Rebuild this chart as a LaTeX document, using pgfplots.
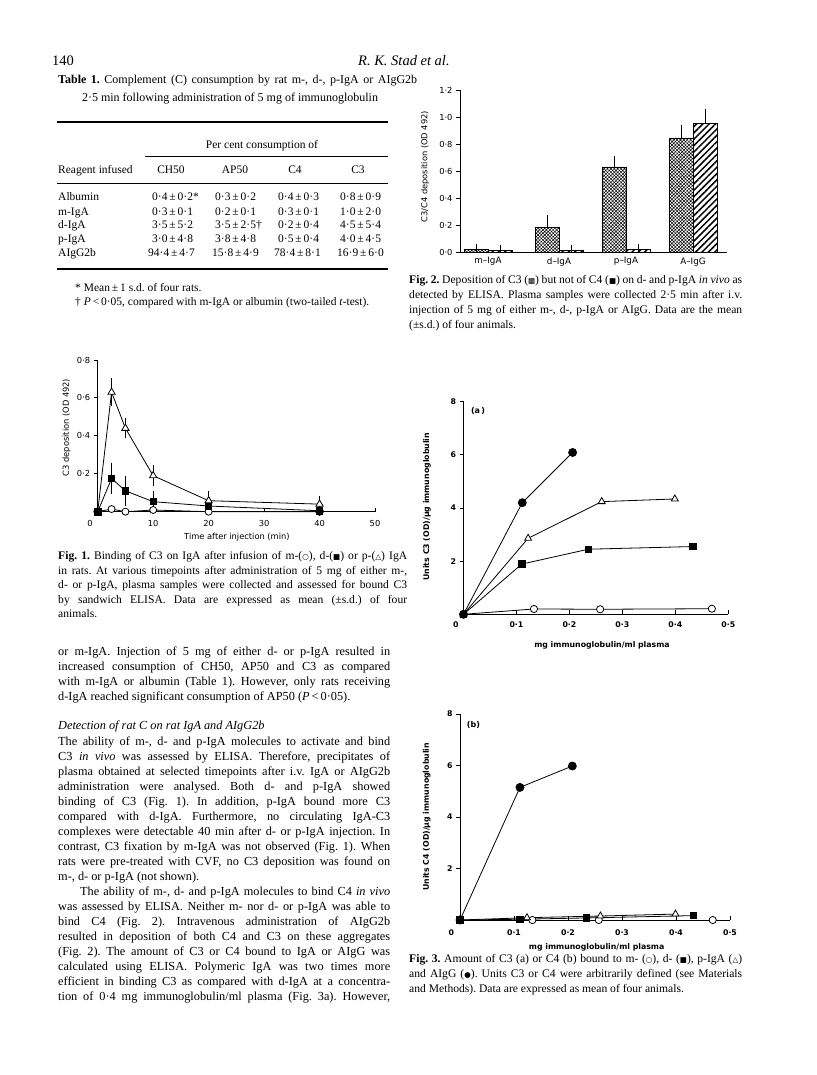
\documentclass[border=0pt]{standalone}
\usepackage{fontspec}
\setmainfont{Liberation Serif}
\newfontfamily\plotfont{DejaVu Sans}
\newfontfamily\symfont{DejaVu Sans}
\usepackage{pgfplots}
\pgfplotsset{compat=1.18}
\usetikzlibrary{patterns,patterns.meta}

\newcommand\JL[4]{\node[anchor=base west,inner sep=0pt] at (#1pt,-#2pt) {\makebox[#3pt][s]{#4}};}
\newcommand\LL[3]{\node[anchor=base west,inner sep=0pt] at (#1pt,-#2pt) {#3};}
\newcommand\CL[3]{\node[anchor=base,inner sep=0pt] at (#1pt,-#2pt) {#3};}
\newcommand\sy[1]{{\symfont\fontsize{7.5}{7.5}\selectfont #1}}

\pgfplotsset{
  oldaxis/.style={
    scale only axis, anchor=south west, clip=false,
    axis x line*=bottom, axis y line*=left,
    axis line style={-, line width=0.9pt},
    every outer x axis line/.append style={-},
    every outer y axis line/.append style={-},
    xtick pos=bottom, ytick pos=left,
    major tick length=4pt,
    tick style={line width=0.9pt, black},
    xtick align=inside, ytick align=outside,
    minor tick num=0,
    tick label style={font=\plotfont\fontsize{8.3}{9}\selectfont},
    label style={font=\plotfont\fontsize{8.3}{9}\selectfont},
    xlabel style={anchor=center}, ylabel style={anchor=center},
  },
  f3/.style={
    tick label style={font=\plotfont\bfseries\fontsize{7.8}{9}\selectfont},
    label style={font=\plotfont\bfseries\fontsize{7.8}{9}\selectfont},
  },
  ln/.style={black, line width=0.8pt},
}

\begin{document}
\frenchspacing
\begin{tikzpicture}
\path[use as bounding box] (0,0) rectangle (816pt,-1075pt);

% ---------------- header ----------------
\LL{52}{66}{\fontsize{14.5}{16}\selectfont 140}
\LL{358}{66}{\fontsize{14.5}{16}\selectfont\itshape R. K. Stad et al.}

% ---------------- table ----------------
\begin{scope}[font=\fontsize{12}{14}\selectfont]
\JL{58}{84}{359}{\textbf{Table 1.} Complement (C) consumption by rat m-, d-, p-IgA or AIgG2b}
\CL{230}{102}{2·5 min following administration of 5 mg of immunoglobulin}
\end{scope}
\draw[line width=1.3pt] (57pt,-122pt) -- (388pt,-122pt);
\draw[line width=0.7pt] (145pt,-156pt) -- (388pt,-156pt);
\draw[line width=0.7pt] (57pt,-183pt) -- (388pt,-183pt);
\draw[line width=1.3pt] (57pt,-269pt) -- (388pt,-269pt);
\begin{scope}[font=\fontsize{11.5}{13}\selectfont]
\CL{262}{149}{Per cent consumption of}
\LL{58}{174}{Reagent infused}
\CL{171}{174}{CH50}
\CL{235}{174}{AP50}
\CL{295}{174}{C4}
\CL{358}{174}{C3}
% rows
\LL{58}{201}{Albumin}
\LL{58}{215}{m-IgA}
\LL{58}{229}{d-IgA}
\LL{58}{242.5}{p-IgA}
\LL{58}{256}{AIgG2b}
\LL{152}{201}{0·4\,±\,0·2*}
\LL{152}{215}{0·3\,±\,0·1}
\LL{152}{229}{3·5\,±\,5·2}
\LL{152}{242.5}{3·0\,±\,4·8}
\LL{148}{256}{94·4\,±\,4·7}
\LL{215}{201}{0·3\,±\,0·2}
\LL{215}{215}{0·2\,±\,0·1}
\LL{215}{229}{3·5\,±\,2·5†}
\LL{215}{242.5}{3·8\,±\,4·8}
\LL{212}{256}{15·8\,±\,4·9}
\LL{278}{201}{0·4\,±\,0·3}
\LL{278}{215}{0·3\,±\,0·1}
\LL{278}{229}{0·2\,±\,0·4}
\LL{278}{242.5}{0·5\,±\,0·4}
\LL{274}{256}{78·4\,±\,8·1}
\LL{340}{201}{0·8\,±\,0·9}
\LL{340}{215}{1·0\,±\,2·0}
\LL{340}{229}{4·5\,±\,5·4}
\LL{340}{242.5}{4·0\,±\,4·5}
\LL{337}{256}{16·9\,±\,6·0}
\LL{75}{291}{* Mean\,±\,1 s.d. of four rats.}
\LL{75}{305}{† \textit{P}\,<\,0·05, compared with m-IgA or albumin (two-tailed \textit{t}-test).}
\end{scope}

% ---------------- captions ----------------
\begin{scope}[font=\fontsize{11.6}{14}\selectfont]
\JL{58}{559.5}{349}{\textbf{Fig. 1.} Binding of C3 on IgA after infusion of m-(\sy{○}), d-(\sy{■}) or p-(\sy{△}) IgA}
\JL{58}{574}{349}{in rats. At various timepoints after administration of 5 mg of either m-,}
\JL{58}{588.5}{349}{d- or p-IgA, plasma samples were collected and assessed for bound C3}
\JL{58}{603}{349}{by sandwich ELISA. Data are expressed as mean (±s.d.) of four}
\LL{58}{617.5}{animals.}

\JL{409}{283.5}{333}{\textbf{Fig. 2.} Deposition of C3 (\sy{▩}) but not of C4 (\sy{■}) on d- and p-IgA \textit{in vivo} as}
\JL{409}{298.5}{333}{detected by ELISA. Plasma samples were collected 2·5 min after i.v.}
\JL{409}{313.5}{333}{injection of 5 mg of either m-, d-, p-IgA or AIgG. Data are the mean}
\LL{409}{328.5}{(±s.d.) of four animals.}

\JL{409}{962.5}{333}{\textbf{Fig. 3.} Amount of C3 (a) or C4 (b) bound to m- (\sy{○}), d- (\sy{■}), p-IgA (\sy{△})}
\JL{409}{977.5}{333}{and AIgG (\sy{●}). Units C3 or C4 were arbitrarily defined (see Materials}
\LL{409}{992.5}{and Methods). Data are expressed as mean of four animals.}
\end{scope}

% ---------------- body text ----------------
\begin{scope}[font=\fontsize{12.3}{15}\selectfont]
\JL{58}{655}{332}{or m-IgA. Injection of 5 mg of either d- or p-IgA resulted in}
\JL{58}{670}{332}{increased consumption of CH50, AP50 and C3 as compared}
\JL{58}{685}{332}{with m-IgA or albumin (Table 1). However, only rats receiving}
\LL{58}{700}{d-IgA reached significant consumption of AP50 (\textit{P}\,<\,0·05).}
\LL{58}{729}{\textit{Detection of rat C on rat IgA and AIgG2b}}
\JL{58}{745}{332}{The ability of m-, d- and p-IgA molecules to activate and bind}
\JL{58}{760}{332}{C3 \textit{in vivo} was assessed by ELISA. Therefore, precipitates of}
\JL{58}{775}{332}{plasma obtained at selected timepoints after i.v. IgA or AIgG2b}
\JL{58}{790}{332}{administration were analysed. Both d- and p-IgA showed}
\JL{58}{805}{332}{binding of C3 (Fig. 1). In addition, p-IgA bound more C3}
\JL{58}{820}{332}{compared with d-IgA. Furthermore, no circulating IgA-C3}
\JL{58}{835}{332}{complexes were detectable 40 min after d- or p-IgA injection. In}
\JL{58}{850}{332}{contrast, C3 fixation by m-IgA was not observed (Fig. 1). When}
\JL{58}{865}{332}{rats were pre-treated with CVF, no C3 deposition was found on}
\LL{58}{880}{m-, d- or p-IgA (not shown).}
\JL{80}{895}{310}{The ability of m-, d- and p-IgA molecules to bind C4 \textit{in vivo}}
\JL{58}{910}{332}{was assessed by ELISA. Neither m- nor d- or p-IgA was able to}
\JL{58}{925}{332}{bind C4 (Fig. 2). Intravenous administration of AIgG2b}
\JL{58}{940}{332}{resulted in deposition of both C4 and C3 on these aggregates}
\JL{58}{955}{332}{(Fig. 2). The amount of C3 or C4 bound to IgA or AIgG was}
\JL{58}{970}{332}{calculated using ELISA. Polymeric IgA was two times more}
\JL{58}{985}{332}{efficient in binding C3 as compared with d-IgA at a concentra-}
\JL{58}{1000}{332}{tion of 0·4 mg immunoglobulin/ml plasma (Fig. 3a). However,}
\end{scope}

% ---------------- Fig. 1 ----------------
\begin{axis}[oldaxis, at={(97.7pt,-511.7pt)}, width=277.3pt, height=151.7pt,
  xmin=0, xmax=50, ymin=0, ymax=0.8,
  xtick={0,10,20,30,40,50},
  xticklabels={\makebox[0pt][r]{0\hspace{5pt}},10,20,30,40,50},
  ytick={0.2,0.4,0.6,0.8}, yticklabels={0·2,0·4,0·6,0·8},
  xticklabel style={yshift=-5pt},
  xlabel={Time after injection (min)}, ylabel={C3 deposition (OD 492)},
  xlabel style={at={(axis description cs:0.502,-0.167)}},
  ylabel style={at={(axis description cs:-0.112,0.555)}},
]
% error bars
\addplot[only marks, mark=none, black, error bars/.cd, y dir=both, y explicit,
  error bar style={line width=0.8pt}, error mark options={mark size=4.5pt, line width=0.8pt}]
  coordinates {(2.5,0.63) +- (0,0.05) (5,0.44) +- (0,0.03) (10,0.19) +- (0,0.03) (20,0.058) +- (0,0.025) (40,0.04) +- (0,0.02)};
\addplot[only marks, mark=none, black, error bars/.cd, y dir=both, y explicit,
  error bar style={line width=0.8pt}, error mark options={mark size=4.5pt, line width=0.8pt}]
  coordinates {(2.5,0.175) +- (0,0.06) (5,0.11) +- (0,0.055) (10,0.053) +- (0,0.03)};
% m-IgA
\addplot[ln, mark=*, mark size=3.5pt, mark options={fill=white, line width=0.8pt}]
  coordinates {(0,0) (2.5,0.014) (5,0.0) (10,0.009) (20,0.0) (40,0.0)};
% d-IgA
\addplot[ln, mark=square*, mark size=3.2pt, mark options={fill=black}]
  coordinates {(0,0) (2.5,0.175) (5,0.11) (10,0.053) (20,0.03) (40,0.005)};
% p-IgA
\addplot[ln, mark=triangle*, mark size=4.2pt, mark options={fill=white, line width=0.8pt}, mark indices={2,3,4,5,6}]
  coordinates {(0,0) (2.5,0.63) (5,0.44) (10,0.19) (20,0.058) (40,0.04)};
\addplot[only marks, mark=*, mark size=4pt, black] coordinates {(0,0) (40,0.002)};
\end{axis}

% ---------------- Fig. 2 ----------------
\begin{axis}[oldaxis, at={(460pt,-252pt)}, width=267pt, height=162pt,
  xmin=0, xmax=267, ymin=0, ymax=1.2,
  ytick={0,0.2,0.4,0.6,0.8,1.0,1.2}, yticklabels={0·0,0·2,0·4,0·6,0·8,1·0,1·2},
  xtick={28,99,166,233}, xticklabels={m–IgA,d–IgA,p–IgA,A–IgG},
  x tick style={draw=none},
  xticklabel style={yshift=-2pt, font=\plotfont\fontsize{8.8}{9}\selectfont},
  ylabel={C3/C4 deposition (OD 492)},
  ylabel style={at={(axis description cs:-0.131,0.527)}},
]
\addplot[ybar, bar width=24, bar shift=0pt, draw=black, line width=0.8pt,
  pattern={Hatch[angle=45,distance=2.4pt,line width=0.5pt]}, pattern color=black,
  error bars/.cd, y dir=plus, y explicit,
  error bar style={line width=0.8pt, solid}, error mark options={mark size=4pt, line width=0.8pt}]
  coordinates {(16,0.02) +- (0,0.01) (87,0.18) +- (0,0.065) (154,0.63) +- (0,0.055) (221,0.845) +- (0,0.063)};
\addplot[ybar, bar width=24, bar shift=0pt, draw=black, line width=0.8pt,
  pattern={Lines[angle=45,distance=4.5pt,line width=1.5pt]}, pattern color=black,
  error bars/.cd, y dir=plus, y explicit,
  error bar style={line width=0.8pt, solid}, error mark options={mark size=4pt, line width=0.8pt}]
  coordinates {(40,0.01) +- (0,0.01) (111,0.01) +- (0,0.01) (178,0.02) +- (0,0.01) (245.5,0.955) +- (0,0.075)};
\end{axis}

% ---------------- Fig. 3a ----------------
\begin{axis}[oldaxis, f3, at={(463.5pt,-614.3pt)}, width=264.8pt, height=212.6pt,
  xmin=0, xmax=0.5, ymin=0, ymax=8,
  xtick={0,0.1,0.2,0.3,0.4,0.5},
  xticklabels={\makebox[0pt][r]{0\hspace{5pt}},0·1,0·2,0·3,0·4,0·5},
  ytick={2,4,6,8}, yticklabels={2,4,6,8},
  xticklabel style={yshift=-4pt},
  xlabel={mg immunoglobulin/ml plasma}, ylabel={Units C3 (OD)/\textmu g immunoglobulin},
  xlabel style={at={(axis description cs:0.523,-0.148)}},
  ylabel style={at={(axis description cs:-0.138,0.506)}},
]
\node[font=\plotfont\bfseries\fontsize{8}{9}\selectfont] at (rel axis cs:0.055,0.956) {(a\,)};
\addplot[ln, mark=*, mark size=3.6pt, mark options={fill=white, line width=0.8pt}]
  coordinates {(0,0) (0.133,0.2) (0.258,0.19) (0.469,0.21)};
\addplot[ln, mark=triangle*, mark size=4pt, mark options={fill=white, line width=0.8pt}]
  coordinates {(0,0) (0.122,2.86) (0.261,4.24) (0.399,4.34)};
\addplot[ln, mark=*, mark size=4pt, mark options={fill=black}]
  coordinates {(0,0) (0.111,4.2) (0.206,6.09)};
\addplot[ln, mark=square*, mark size=3.2pt, mark options={fill=black}]
  coordinates {(0,0) (0.110,1.89) (0.236,2.45) (0.433,2.55)};
\end{axis}

% ---------------- Fig. 3b ----------------
\begin{axis}[oldaxis, f3, at={(460pt,-920pt)}, width=270pt, height=206pt,
  xmin=0, xmax=0.5, ymin=0, ymax=8,
  xtick={0,0.1,0.2,0.3,0.4,0.5},
  xticklabels={\makebox[0pt][r]{0\hspace{6pt}},0·1,0·2,0·3,0·4,0·5},
  ytick={2,4,6,8}, yticklabels={2,4,6,8},
  xticklabel style={yshift=-6pt},
  xlabel={mg immunoglobulin/ml plasma}, ylabel={Units C4 (OD)/\textmu g immunoglobulin},
  xlabel style={at={(axis description cs:0.506,-0.134)}},
  ylabel style={at={(axis description cs:-0.123,0.501)}},
]
\node[font=\plotfont\bfseries\fontsize{8}{9}\selectfont] at (rel axis cs:0.05,0.947) {(b)};
\addplot[ln, mark=*, mark size=3.6pt, mark options={fill=white, line width=0.8pt}]
  coordinates {(0,0) (0.134,0.0) (0.257,0.0) (0.468,0.0)};
\addplot[ln, mark=triangle*, mark size=4pt, mark options={fill=white, line width=0.8pt}]
  coordinates {(0,0) (0.124,0.09) (0.26,0.155) (0.399,0.23)};
\addplot[ln, mark=square*, mark size=3.2pt, mark options={fill=black}]
  coordinates {(0,0) (0.111,0.03) (0.234,0.08) (0.432,0.17)};
\addplot[ln, mark=*, mark size=4pt, mark options={fill=black}]
  coordinates {(0,0) (0.111,5.15) (0.208,5.98)};
\end{axis}
\end{tikzpicture}
\end{document}
